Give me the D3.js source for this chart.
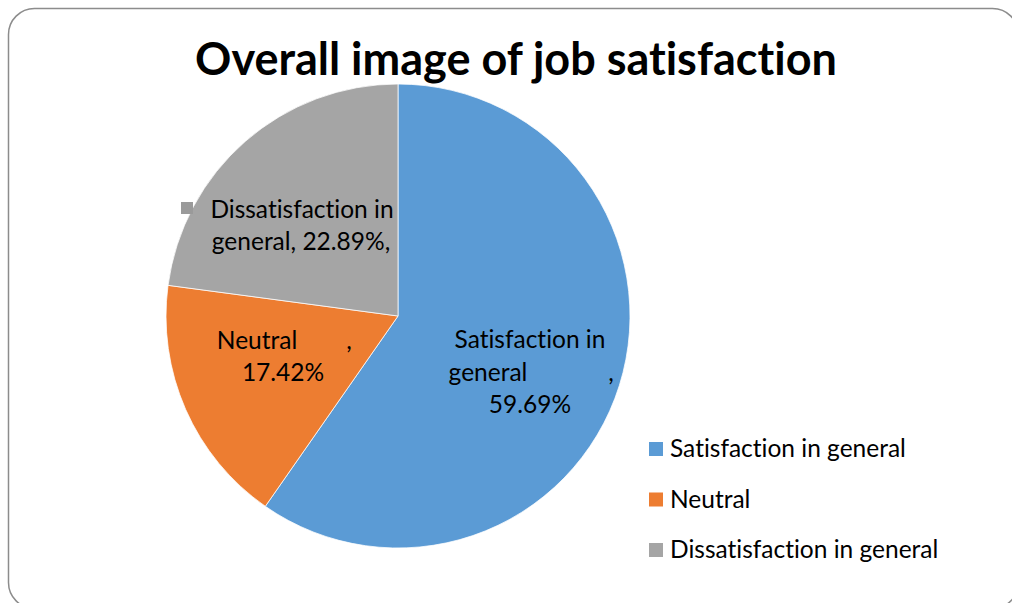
<!DOCTYPE html>
<html>
<head>
<meta charset="utf-8" />
<title>Overall image of job satisfaction</title>
<style>
html, body {
    padding: 0px;
    margin: 0px;
    background: #fff;
}
text {
    font-family: Lato, "Open Sans", sans-serif;
    font-variant-ligatures: none;
    fill: #000;
}
</style>
</head>
<body>
<svg id="chart" width="1012" height="603"></svg>
<script src="https://cdnjs.cloudflare.com/ajax/libs/d3/7.8.5/d3.min.js"></script>
<script>
!(function(){
    "use strict"

    var categories = ["Satisfaction in general", "Neutral", "Dissatisfaction in general"]
    var values = [59.69, 17.42, 22.89]
    var colors = ["#5B9BD5", "#ED7D31", "#A5A5A5"]

    var cx = 398, cy = 316, R = 232

    var svg = d3.select("#chart")

    // frame
    svg.append("rect")
        .attr("x", 8.5).attr("y", 8.5)
        .attr("width", 1010).attr("height", 600)
        .attr("rx", 26).attr("ry", 26)
        .attr("fill", "#fff")
        .attr("stroke", "#8c8c8c")
        .attr("stroke-width", 1.5)

    svg.append("text")
        .attr("x", 516).attr("y", 75)
        .attr("text-anchor", "middle")
        .style("font-size", "45px")
        .style("font-weight", "bold")
        .text("Overall image of job satisfaction")

    var data = categories.map(function(c, i){ return {name: c, value: values[i], color: colors[i]} })

    var pie = d3.pie().sort(null).value(function(d){ return d.value })
    var arc = d3.arc().innerRadius(0).outerRadius(R)
    var arcs = pie(data)

    var g = svg.append("g").attr("transform", "translate(" + cx + "," + cy + ")")

    g.selectAll("path.slice")
        .data(arcs)
        .enter()
        .append("path")
        .attr("class", "slice")
        .attr("d", arc)
        .attr("fill", function(d){ return d.data.color })
        .attr("stroke", "#fff")
        .attr("stroke-width", 0.75)

    // data labels, lines of text relative to pie center
    var fmt = function(v){ return v.toFixed(2) + "%" }
    var labelLines = [
        [{t: "Satisfaction in", x: 132, y: 32}, {t: "general", x: 90, y: 65}, {t: ",", x: 213, y: 65}, {t: fmt(values[0]), x: 132, y: 97}],
        [{t: "Neutral", x: -141, y: 33}, {t: ",", x: -49, y: 33}, {t: fmt(values[1]), x: -115, y: 65}],
        [{t: "Dissatisfaction in", x: -96, y: -98}, {t: "general, " + fmt(values[2]) + ",", x: -97, y: -66}]
    ]
    var lab = g.selectAll("g.lab")
        .data(arcs)
        .enter()
        .append("g")
        .attr("class", "lab")
    lab.selectAll("text")
        .data(function(d, i){ return labelLines[i] })
        .enter()
        .append("text")
        .attr("x", function(d){ return d.x })
        .attr("y", function(d){ return d.y })
        .attr("text-anchor", "middle")
        .style("font-size", "24.5px")
        .text(function(d){ return d.t })

    // the little legend key on the dissatisfaction label
    g.append("rect")
        .attr("x", -217).attr("y", -114)
        .attr("width", 12).attr("height", 12)
        .attr("fill", "#9a9a9a")

    // legend
    var legend = svg.append("g").attr("transform", "translate(649,457)")
    var item = legend.selectAll("g")
        .data(data)
        .enter()
        .append("g")
        .attr("transform", function(d, i){ return "translate(0," + (i * 50.5) + ")" })
    item.append("rect")
        .attr("width", 14).attr("height", 14)
        .attr("y", -15)
        .attr("fill", function(d){ return d.color })
    item.append("text")
        .attr("x", 21).attr("y", 0)
        .style("font-size", "24.5px")
        .text(function(d){ return d.name })
}());
</script>
</body>
</html>
